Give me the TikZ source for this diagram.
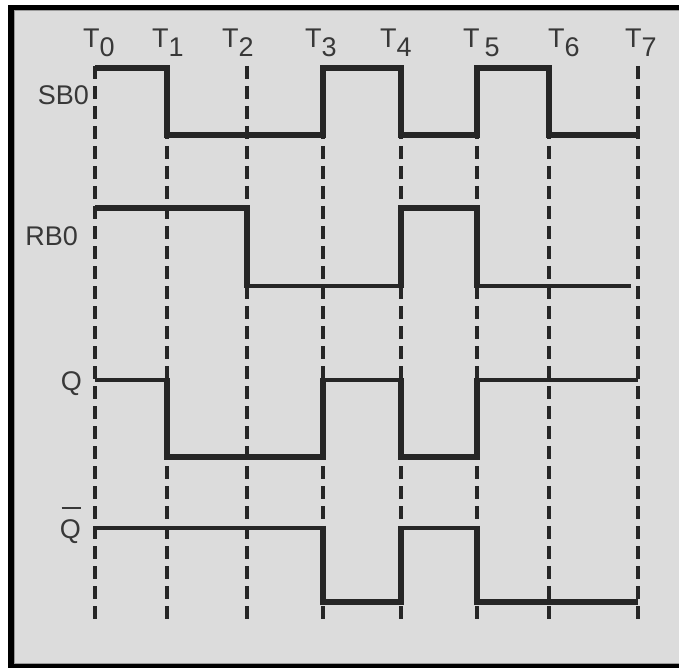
\documentclass[tikz,border=0pt]{standalone}
\usepackage{fontspec}
\setmainfont{Liberation Sans}
\definecolor{bg}{HTML}{DCDCDC}
\definecolor{ink}{HTML}{262626}
\definecolor{txt}{HTML}{383838}
\definecolor{rim}{HTML}{9A9A9A}
\newcommand{\tlab}[1]{T\raisebox{-9pt}{#1}}
\begin{document}
\begin{tikzpicture}[x=1pt,y=-1pt,
  thinsig/.style={line width=4.5pt, draw=ink, line join=miter},
  thicksig/.style={line width=6.5pt, draw=ink, line join=miter},
  gridline/.style={line width=3.2pt, draw=ink, dash pattern=on 13pt off 7pt},
  lbl/.style={font=\fontsize{27}{32}\selectfont, text=txt, inner sep=0pt}]
\useasboundingbox (0,0) rectangle (679,668);
\fill[white] (0,0) rectangle (679,668);
\fill[black] (8,5) rectangle (679,668);
\fill[bg] (14,10.4) rectangle (720,663.4);
\draw[rim, line width=0.8pt] (720,10.4) -- (14,10.4) -- (14,663.4) -- (720,663.4);
% time marker lines
\foreach \x in {95,167,247,323,401,477,549,638}
  \draw[gridline] (\x,66) -- (\x,623);
% SB0
\draw[thicksig] (95,68) -| (167,135) -| (323,68) -| (401,135) -| (477,68) -| (549,135) -- (640,135);
% RB0
\draw[thinsig] (95,208) -| (247,286) -| (401,208) -| (477,286) -- (631,286);
\draw[thicksig] (95,208) -- (247,208) -- (247,288.25);
\draw[thicksig] (401,288.25) -- (401,208) -- (477,208) -- (477,288.25);
% Q
\draw[thinsig] (95,380) -| (167,457) -| (323,380) -| (401,457) -| (477,380) -- (638,380);
\draw[thicksig] (167,377.75) -- (167,457) -- (323,457) -- (323,377.75);
\draw[thicksig] (401,377.75) -- (401,457) -- (477,457) -- (477,377.75);
% Q bar
\draw[thinsig] (95,528) -| (323,602) -| (401,528) -| (477,602) -- (638,602);
\draw[thicksig] (323,525.75) -- (323,602) -- (401,602) -- (401,525.75);
\draw[thicksig] (477,525.75) -- (477,602) -- (638,602);
% time labels
\node[lbl, anchor=base west] (t0) at (83,48) {\tlab{0}};
\node[lbl, anchor=base west] (t1) at (152,48) {\tlab{1}};
\node[lbl, anchor=base west] (t2) at (222,48) {\tlab{2}};
\node[lbl, anchor=base west] (t3) at (305,48) {\tlab{3}};
\node[lbl, anchor=base west] (t4) at (380,48) {\tlab{4}};
\node[lbl, anchor=base west] (t5) at (463,48) {T\hspace{5pt}\raisebox{-9pt}{5}};
\node[lbl, anchor=base west] (t6) at (548,48) {\tlab{6}};
\node[lbl, anchor=base west] (t7) at (625,48) {\tlab{7}};
% signal labels
\node[lbl, anchor=base east] (sb) at (89,105) {SB0};
\node[lbl, anchor=base east] (rb) at (78,245) {RB0};
\node[lbl, anchor=base east] (q) at (82,390) {Q};
\node[lbl, anchor=base east] (qb) at (81,538) {Q};
\draw[line width=2.5pt, draw=txt] ([xshift=2pt,yshift=30pt]qb.base west) -- ([yshift=30pt]qb.base east);
\end{tikzpicture}
\end{document}
